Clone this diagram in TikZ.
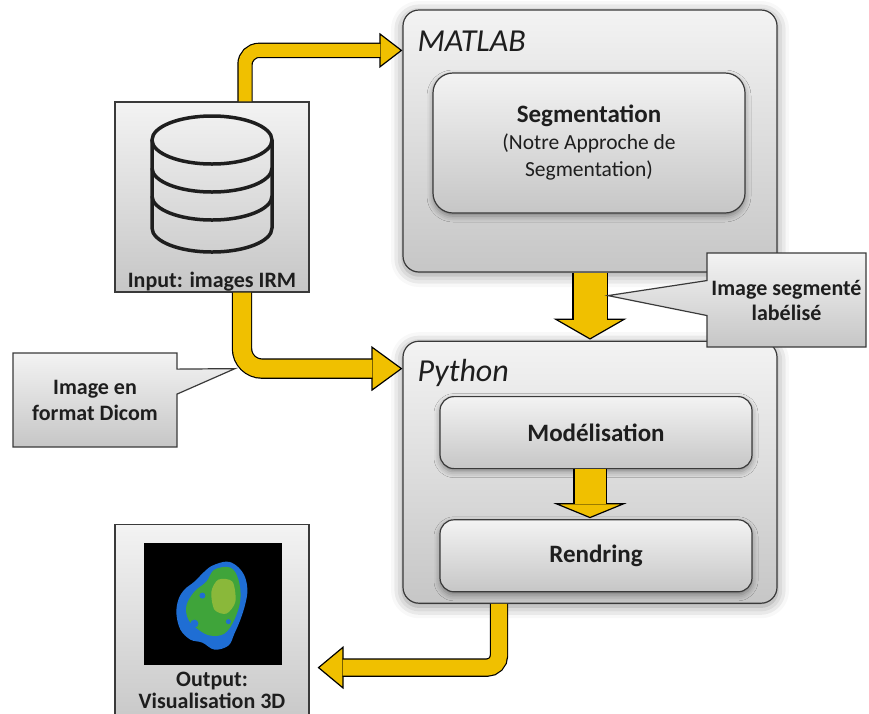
\documentclass[tikz,border=0pt]{standalone}
\usepackage{fontspec}
\setmainfont{Carlito}
\usetikzlibrary{arrows.meta,calc,positioning,shapes.callouts,shadows.blur}
\definecolor{flowgold}{HTML}{F0C000}
\definecolor{paneltop}{HTML}{F3F3F3}
\definecolor{panelbottom}{HTML}{C6C6C6}
\definecolor{edgegray}{HTML}{3A3A3A}
\definecolor{inkgray}{HTML}{1E1E1E}
\definecolor{blobblue}{HTML}{1F6ED4}
\definecolor{blobgreen}{HTML}{3FA43A}
\definecolor{blobyellow}{HTML}{9DBE3A}

\begin{document}
\begin{tikzpicture}[
  x=1pt,y=-1pt,
  panel/.style={draw=edgegray,line width=1.2pt,rounded corners=16pt,
                top color=paneltop,bottom color=panelbottom,
                blur shadow={shadow xshift=0pt,shadow yshift=-3pt,shadow blur radius=12pt,shadow opacity=45}},
  stage/.style={draw=edgegray,line width=1.2pt,rounded corners=14pt,
                top color=paneltop,bottom color=panelbottom,text=inkgray,align=center,
                font=\fontsize{25}{30}\selectfont\bfseries,
                blur shadow={shadow xshift=0pt,shadow yshift=-3pt,shadow blur radius=6pt,shadow opacity=40}},
  card/.style={draw=edgegray,line width=1.2pt,top color=paneltop,bottom color=panelbottom,
               text=inkgray,align=center,font=\fontsize{22}{26}\selectfont\bfseries},
  note/.style={card,rectangle callout,callout pointer width=#1},
  caption/.style={text=inkgray,align=center,inner sep=0pt,font=\fontsize{22}{22}\selectfont\bfseries},
  title/.style={font=\fontsize{32}{34}\selectfont\itshape,text=inkgray,inner sep=0pt,anchor=west},
  flow/.style={draw=black,line width=1.2pt,double=flowgold,double distance=#1,rounded corners=14pt},
  flowhead/.style 2 args={draw=black,line width=1.2pt,-{Triangle[length=#1,width=#2,fill=flowgold]}}
]
  \useasboundingbox (0,0) rectangle (869,713);

  % input / output cards on the left
  \node[card,minimum width=194pt,minimum height=190pt] (input) at (212,197) {};
  \node[caption,above=1pt of input.south] (inputlbl) {Input: images IRM};
  \node[card,minimum width=194pt,minimum height=207pt,below=231pt of input] (output) {};
  \node[caption,anchor=north] (outputlbl) at ($(output.north)+(0,148)$) {Output:\\Visualisation 3D};

  % database icon
  \begin{scope}[shift={(input.center)},line width=3.5pt,draw=inkgray]
    \draw (-60,-57) -- (-60,31) arc[start angle=180,end angle=0,x radius=60,y radius=24] -- (60,-57);
    \draw (0,-57) ellipse[x radius=60,y radius=24];
    \foreach \yy in {-29,-1}
      \draw (-60,\yy) arc[start angle=180,end angle=0,x radius=60,y radius=24];
  \end{scope}

  % rendered volume
  \begin{scope}[shift={(output.north west)}]
    \fill[black] (30,19) rectangle (168,141);
    \fill[blobblue] plot[smooth cycle,tension=0.6] coordinates
      {(98,42) (112,38) (122,42) (130,52) (133,66) (131,80) (126,96) (120,110) (114,122) (100,126)
       (88,119) (76,116) (66,106) (62,90) (64,76) (70,66) (80,58) (90,48)};
    \fill[blobgreen] plot[smooth cycle,tension=0.6] coordinates
      {(100,46) (116,44) (124,56) (126,76) (120,96) (110,110) (96,112) (84,106) (74,96) (72,82) (80,68) (92,58)};
    \fill[blobyellow,opacity=0.8] plot[smooth cycle] coordinates
      {(104,56) (118,58) (121,78) (112,90) (100,86) (97,68)};
    \fill[blobblue] (88,72) circle[radius=3];
    \fill[blobblue] (114,98) circle[radius=2.5];
    \fill[blobblue] (80,100) circle[radius=4];
  \end{scope}

  % MATLAB panel
  \node[panel,minimum width=374pt,minimum height=262pt] (matlab) at (590,141) {};
  \node[title] (mattitle) at ($(matlab.north west)+(15,32)$) {MATLAB};
  \node[stage,minimum width=312pt,minimum height=140pt,rounded corners=20pt,
        font=\fontsize{21.5}{27}\selectfont] (seg) at (589,143)
    {{\fontsize{25}{28}\selectfont\bfseries Segmentation}\\(Notre Approche de\\Segmentation)};

  % Python panel
  \node[panel,minimum width=374pt,minimum height=262pt,below=68pt of matlab] (python) {};
  \node[title] (pytitle) at ($(python.north west)+(15,32)$) {Python};
  \node[stage,minimum width=312pt,minimum height=72pt] (model) at ($(python.north)+(6,92)$) {Modélisation};
  \node[stage,minimum width=312pt,minimum height=72pt,below=50pt of model] (render) {Rendring};

  % flows: heads first, the shafts run just past their base
  \draw[flowhead={23pt}{35pt}] ($(matlab.north west)+(-25,41)$) -- ($(matlab.north west)+(0,41)$);
  \draw[flow=13pt] ([xshift=33pt]input.north) |- ($(matlab.north west)+(-22,41)$);

  \draw[flowhead={31pt}{45pt}] ($(python.north west)+(-33,28)$) -- ($(python.north west)+(0,28)$);
  \draw[flow=18pt,rounded corners=20pt] ([xshift=30pt]input.south) |- ($(python.north west)+(-30,28)$);

  \draw[flowhead={21pt}{73pt}] ($(python.north)+(0,-23)$) -- ($(python.north)+(0,-1)$);
  \draw[flow=33pt] (matlab.south) -- ($(python.north)+(0,-21)$);

  \draw[flowhead={15pt}{73pt}] ([xshift=-6pt,yshift=17pt]render.north) -- ([xshift=-6pt,yshift=1pt]render.north);
  \draw[flow=31pt] ([xshift=-6pt]model.south) -- ([xshift=-6pt,yshift=15pt]render.north);

  \draw[flowhead={26pt}{43pt}] ($(output.north east)+(36,144)$) -- ($(output.north east)+(8,144)$);
  \draw[flow=16pt,rounded corners=12pt] ([xshift=-91pt]python.south) |- ($(output.north east)+(33,144)$);

  % notes
  \coordinate (dicomtip) at ($(input.south)+(23,76)$);
  \coordinate (segtip) at ($(matlab.south)+(18,23)$);
  \node[note=25pt,callout absolute pointer={(dicomtip)},minimum width=164pt,minimum height=94pt]
    (dicomnote) at (95,400) {Image en\\format Dicom};
  \node[note=35pt,callout absolute pointer={(segtip)},minimum width=159pt,minimum height=94pt,
        font=\fontsize{22}{25}\selectfont\bfseries]
    (segnote) at (786.5,300) {Image segmenté\\labélisé};
\end{tikzpicture}
\end{document}
